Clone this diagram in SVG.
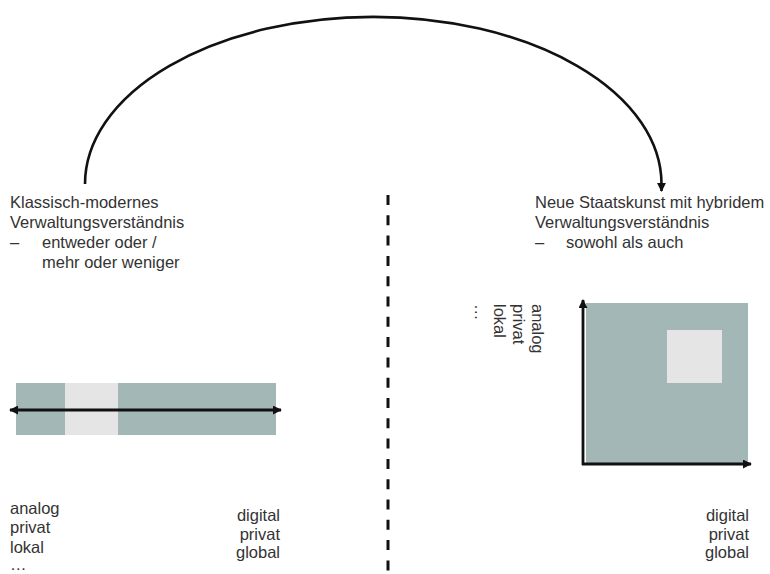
<svg xmlns="http://www.w3.org/2000/svg" width="770" height="574" viewBox="0 0 770 574">
<style>
text{font-family:"Liberation Sans",Arial,sans-serif;font-size:16.5px;fill:#333}
.band{fill:#a2b7b6}
.light{fill:#e5e5e5}
.axis{stroke:#111;stroke-width:2.8;fill:none}
</style>
<defs>
<marker id="ah" viewBox="0 0 10 10" refX="9" refY="5" markerWidth="9" markerHeight="9" markerUnits="userSpaceOnUse" orient="auto-start-reverse">
<path d="M0,0 L10,5 L0,10 z" fill="#111"/>
</marker>
</defs>
<rect width="770" height="574" fill="#fff"/>
<g id="connectors">
<path d="M85,184 A288,167 0 0 1 661.5,184 L661.5,191" fill="none" stroke="#111" stroke-width="2.6" marker-end="url(#ah)"/>
<line x1="388" y1="195" x2="388" y2="574" stroke="#111" stroke-width="3" stroke-dasharray="10 10.3"/>
</g>
<g id="left-title">
<text x="10" y="208">Klassisch-modernes</text>
<text x="10" y="228">Verwaltungsverständnis</text>
<text x="10" y="248">–</text>
<text x="42" y="248">entweder oder /</text>
<text x="42" y="268">mehr oder weniger</text>
</g>
<g id="right-title">
<text x="535" y="208">Neue Staatskunst mit hybridem</text>
<text x="535" y="228">Verwaltungsverständnis</text>
<text x="535" y="248">–</text>
<text x="566" y="248">sowohl als auch</text>
</g>
<g id="left-chart">
<rect class="band" x="16" y="383" width="260" height="52"/>
<rect class="light" x="65" y="383" width="53" height="52"/>
<line class="axis" x1="10" y1="410" x2="281" y2="410" marker-start="url(#ah)" marker-end="url(#ah)"/>
</g>
<g id="left-labels">
<text x="10" y="514">analog</text>
<text x="10" y="533">privat</text>
<text x="10" y="553">lokal</text>
<text x="10" y="570">…</text>
<g text-anchor="end">
<text x="280" y="521">digital</text>
<text x="280" y="540">privat</text>
<text x="280" y="558">global</text>
</g>
</g>
<g id="right-chart">
<rect class="band" x="586" y="303" width="162" height="162"/>
<rect class="light" x="667" y="330" width="55" height="53"/>
<line class="axis" x1="583" y1="465" x2="583" y2="300" marker-end="url(#ah)"/>
<line class="axis" x1="582" y1="464" x2="751" y2="464" marker-end="url(#ah)"/>
</g>
<g id="right-labels">
<g transform="translate(532,304) rotate(90)">
<text x="0" y="0">analog</text>
<text x="0" y="19">privat</text>
<text x="0" y="38">lokal</text>
<text x="0" y="57">…</text>
</g>
<g text-anchor="end">
<text x="749" y="521">digital</text>
<text x="749" y="540">privat</text>
<text x="749" y="558">global</text>
</g>
</g>
</svg>
